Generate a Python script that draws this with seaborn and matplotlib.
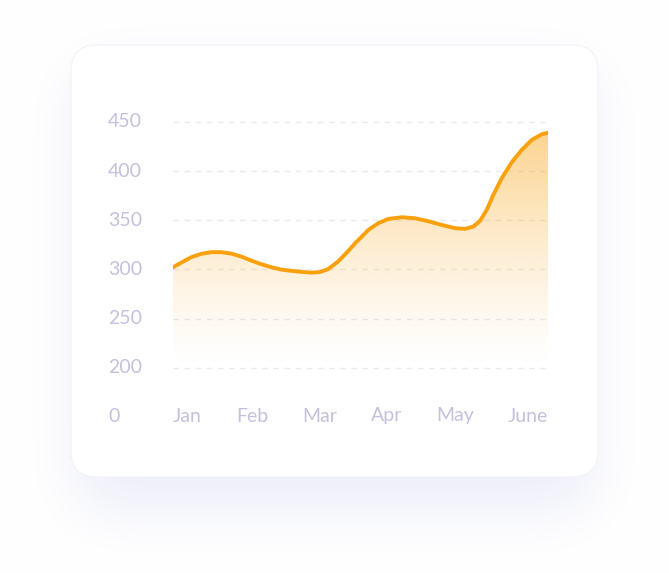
import numpy as np
import pandas as pd
import matplotlib
matplotlib.use("Agg")
import matplotlib.pyplot as plt
from matplotlib.patches import FancyBboxPatch
import seaborn as sns

# data
months = ["Jan", "Feb", "Mar", "Apr", "May", "June"]
y_ticks = [200, 250, 300, 350, 400, 450]
origin_label = "0"

# curve traced along the month axis (0 = Jan edge, 5 = June edge)
curve_pos = [0.000, 0.111, 0.244, 0.377, 0.511, 0.644, 0.777, 0.911, 1.044, 1.177,
             1.311, 1.444, 1.577, 1.711, 1.844, 1.956, 2.067, 2.200, 2.333, 2.444,
             2.493, 2.604, 2.737, 2.871, 3.049, 3.227, 3.404, 3.583, 3.760, 3.893,
             4.004, 4.093, 4.183, 4.271, 4.383, 4.516, 4.649, 4.783, 4.916, 5.000]
curve_val = [302.3, 307.0, 312.5, 315.9, 317.6, 317.6, 316.2, 313.1, 309.0, 305.4,
             302.3, 299.9, 298.6, 297.6, 296.8, 297.3, 300.3, 308.0, 318.5, 328.0,
             331.5, 340.2, 347.1, 351.4, 353.1, 352.1, 349.1, 345.3, 342.0, 341.3,
             343.6, 349.4, 360.6, 375.8, 392.8, 409.0, 421.5, 431.7, 437.5, 439.0]

df = pd.DataFrame({"pos": curve_pos, "value": curve_val})

W, H = 669, 573
line_color = "#F8A10D"
text_color = "#C3C1DC"
grid_color = "#EAEAF1"

sns.set_theme(style="white")
plt.rcParams['font.family'] = ['Lato', 'DejaVu Sans']

fig = plt.figure(figsize=(W / 100, H / 100), dpi=100)
fig.patch.set_facecolor("white")

# ---- background: soft shadow + rounded card ----
bg = fig.add_axes([0, 0, 1, 1])
bg.set_xlim(0, W)
bg.set_ylim(H, 0)
bg.axis("off")

cx0, cy0, cx1, cy1, rad = 71, 45, 598, 477, 26
yy, xx = np.mgrid[0:H, 0:W] + 0.5


def rounded_mask(x0, y0, x1, y1, r):
    dx = np.maximum(np.maximum(x0 + r - xx, xx - (x1 - r)), 0)
    dy = np.maximum(np.maximum(y0 + r - yy, yy - (y1 - r)), 0)
    inside = (xx >= x0) & (xx <= x1) & (yy >= y0) & (yy <= y1)
    return (inside & (dx ** 2 + dy ** 2 <= r ** 2)).astype(float)


def blur(a, sigma):
    t = np.arange(-int(3 * sigma), int(3 * sigma) + 1)
    k = np.exp(-0.5 * (t / sigma) ** 2)
    k /= k.sum()
    a = np.apply_along_axis(lambda m: np.convolve(m, k, mode="same"), 0, a)
    a = np.apply_along_axis(lambda m: np.convolve(m, k, mode="same"), 1, a)
    return a


shadow = blur(rounded_mask(cx0 + 6, cy0 + 25, cx1 - 6, cy1 + 32, rad), 28) * 0.42
shade = np.array([210, 214, 242]) / 255.0
img = 1 - shadow[..., None] * (1 - shade)
bg.imshow(img, extent=[0, W, H, 0], aspect="auto", zorder=0)

card = FancyBboxPatch((cx0, cy0), cx1 - cx0, cy1 - cy0,
                      boxstyle="round,pad=0,rounding_size=%d" % rad,
                      facecolor="white", edgecolor="#F1F2F8", linewidth=0.8,
                      zorder=1)
bg.add_patch(card)

# ---- chart ----
ymin, ymax = 151, 452
ax = fig.add_axes([173 / W, 157 / H, 375 / W, 296 / H])
ax.patch.set_alpha(0)
ax.set_xlim(0, 5)
ax.set_ylim(ymin, ymax)

for v in y_ticks:
    ax.axhline(v, color=grid_color, lw=1, ls=(0, (4, 4)), zorder=0.5)

# gradient area under the curve
poly = ax.fill_between(df["pos"], df["value"], y_ticks[0],
                       facecolor="none", edgecolor="none")
top = max(curve_val)
t = np.linspace(0, 1, 256)
rgba = np.zeros((256, 1, 4))
rgba[..., :3] = matplotlib.colors.to_rgb(line_color)
rgba[:, 0, 3] = 0.46 * t ** 1.3
grad = ax.imshow(rgba, extent=[0, 5, y_ticks[0], top], origin="lower",
                 aspect="auto", zorder=1)
grad.set_clip_path(poly.get_paths()[0], ax.transData)

sns.lineplot(data=df, x="pos", y="value", ax=ax, color=line_color,
             linewidth=2.8, sort=True, zorder=3)
ax.lines[-1].set_solid_capstyle("round")
ax.lines[-1].set_solid_joinstyle("round")
ax.set_xlim(0, 5)
ax.set_ylim(ymin, ymax)

for s in ax.spines.values():
    s.set_visible(False)
ax.set_xlabel("")
ax.set_ylabel("")

# y ticks, left aligned, with the origin "0" on the month row
ax.set_yticks([ymin] + y_ticks, [origin_label] + [str(v) for v in y_ticks])
ax.tick_params(axis="y", length=0, pad=65 * 72 / 100, labelsize=14,
               labelcolor=text_color)
plt.setp(ax.get_yticklabels(), ha="left", va="center")

# month labels spread edge to edge (space-between)
ax.set_xticks(np.linspace(0, 5, len(months)), months)
ax.tick_params(axis="x", length=0, pad=0, labelsize=14, labelcolor=text_color)
fig.canvas.draw()
r = fig.canvas.get_renderer()
widths = [lab.get_window_extent(r).width for lab in ax.get_xticklabels()]
span = 375.0
gap = (span - sum(widths)) / (len(months) - 1)
centers = []
acc = 0.0
for w in widths:
    centers.append((acc + w / 2) / span * 5)
    acc += w + gap
ax.set_xticks(centers, months)
plt.setp(ax.get_xticklabels(), va="center")

fig.savefig("out.png", dpi=100, facecolor="white")
